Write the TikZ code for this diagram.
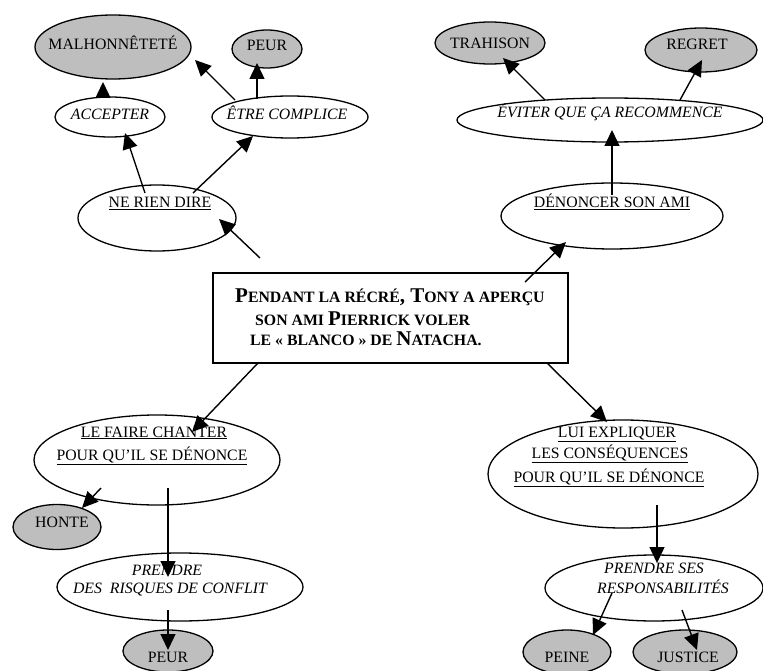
\documentclass[tikz,border=0pt]{standalone}
\usepackage{fontspec}
\setmainfont{Liberation Serif}
\usetikzlibrary{arrows.meta,calc,shapes.geometric}
\definecolor{ellgray}{RGB}{190,190,190}
\tikzset{
 ell/.style={draw=black, line width=1.3pt, ellipse, inner sep=0pt, fill=white},
 gell/.style={ell, fill=ellgray},
 lbl/.style={anchor=base, inner sep=0pt, font=\fontsize{15.8}{18}\selectfont},
 ilbl/.style={anchor=base, inner sep=0pt, font=\fontsize{15.8}{18}\selectfont\itshape},
 arr/.style={line width=1.4pt, -{Triangle[length=16pt,width=15pt]}},
 storybox/.style={draw=black, line width=1.3pt, rectangle, inner sep=0pt},
 bline/.style={anchor=base west, inner sep=0pt, font=\fontsize{21}{22}\selectfont\bfseries}
}
\newcommand\smc{\fontsize{15.8}{18}\selectfont}
\begin{document}
\begin{tikzpicture}[x=1pt,y=-1pt]
\useasboundingbox (0,0) rectangle (763,671);
% ---------- ellipses ----------
\node[gell, minimum width=156pt, minimum height=64pt] (malh) at (113,47) {};
\node[gell, minimum width=70pt, minimum height=38pt] (peur1) at (267,49) {};
\node[ell, minimum width=110pt, minimum height=40pt] (accepter) at (110,117) {};
\node[ell, minimum width=156pt, minimum height=42pt] (complice) at (290,117) {};
\node[ell, minimum width=158pt, minimum height=66pt] (nrd) at (157,218) {};
\node[gell, minimum width=110pt, minimum height=42pt] (trahison) at (490,43) {};
\node[gell, minimum width=112pt, minimum height=44pt] (regret) at (701,50) {};
\node[ell, minimum width=306pt, minimum height=44pt] (eviter) at (610,120) {};
\node[ell, minimum width=222pt, minimum height=66pt] (denoncer) at (612,216) {};
\node[storybox, minimum width=355pt, minimum height=90pt] (story) at (390.5,318) {};
\node[ell, minimum width=246pt, minimum height=90pt] (chanter) at (157,460) {};
\node[gell, minimum width=88pt, minimum height=45pt] (honte) at (57,527) {};
\node[ell, minimum width=246pt, minimum height=68pt] (risques) at (180,587) {};
\node[gell, minimum width=90pt, minimum height=42pt] (peur2) at (168,651) {};
\node[ell, minimum width=270pt, minimum height=108pt] (expl) at (623,474) {};
\node[ell, minimum width=218pt, minimum height=66pt] (resp) at (654,588) {};
\node[gell, minimum width=88pt, minimum height=44pt] (peine) at (567,652) {};
\node[gell, minimum width=104pt, minimum height=44pt] (justice) at (685,652) {};
% ---------- texts ----------
\node[lbl] (tmalh) at (113,50) {MALHONNÊTETÉ};
\node[lbl] (tpeur1) at (267,51) {PEUR};
\node[ilbl] (taccepter) at (110,120) {ACCEPTER};
\node[ilbl] (tcomplice) at (287,120) {ÊTRE COMPLICE};
\node[lbl] (tnrd) at (160,208) {\underline{NE RIEN DIRE}};
\node[lbl] (ttrahison) at (490,49) {TRAHISON};
\node[lbl] (tregret) at (697,50) {REGRET};
\node[ilbl] (teviter) at (610,118) {ÉVITER QUE ÇA RECOMMENCE};
\node[lbl] (tdenoncer) at (612,208) {\underline{DÉNONCER SON AMI}};
\node[bline] (ts1) at (235,302) {P{\smc ENDANT LA RÉCRÉ}, T{\smc ONY A APERÇU}};
\node[bline] (ts2) at (255,325) {{\smc SON AMI }P{\smc IERRICK VOLER}};
\node[bline] (ts3) at (250,345) {{\smc LE « BLANCO » DE }N{\smc ATACHA.}};
\node[lbl] (tch1) at (154,437) {\underline{LE FAIRE CHANTER}};
\node[lbl] (tch2) at (152,460) {\underline{POUR QU’IL SE DÉNONCE}};
\node[lbl] (thonte) at (62,527) {HONTE};
\node[ilbl] (tri1) at (167,575) {PRENDRE};
\node[ilbl] (tri2) at (170,593) {DES~ RISQUES DE CONFLIT};
\node[lbl] (tpeur2) at (168,662) {PEUR};
\node[lbl] (tex1) at (617,437) {\underline{LUI EXPLIQUER}};
\node[lbl] (tex2) at (610,458) {\underline{LES CONSÉQUENCES}};
\node[lbl] (tex3) at (609,482) {\underline{POUR QU’IL SE DÉNONCE}};
\node[ilbl] (tre1) at (654,573) {PRENDRE SES};
\node[ilbl] (tre2) at (663,593) {RESPONSABILITÉS};
\node[lbl] (tpeine) at (567,662) {PEINE};
\node[lbl] (tjustice) at (688,662) {JUSTICE};
% ---------- arrows ----------
\draw[arr] ($(accepter.center)+(-7,-20)$) -- ($(malh.center)+(-10,35)$);
\draw[arr] ($(complice.center)+(-55,-17)$) -- ($(malh.center)+(82,13)$);
\draw[arr] ($(complice.center)+(-33,-18)$) -- ($(peur1.center)+(-10,14)$);
\draw[arr] ($(nrd.center)+(-12,-25)$) -- ($(accepter.center)+(15,16)$);
\draw[arr] ($(nrd.center)+(36,-25)$) -- ($(complice.center)+(-37,19)$);
\draw[arr] ($(story.center)+(-130.5,-60)$) -- ($(nrd.center)+(62,1)$);
\draw[arr] ($(eviter.center)+(-65,-20)$) -- ($(trahison.center)+(13,15)$);
\draw[arr] ($(eviter.center)+(70,-20)$) -- ($(regret.center)+(1,10)$);
\draw[arr] ($(denoncer.center)+(0,-21)$) -- ($(eviter.center)+(2,10)$);
\draw[arr] ($(story.center)+(134.5,-36)$) -- ($(denoncer.center)+(-46,26)$);
\draw[arr] ($(story.center)+(-132.5,45)$) -- ($(chanter.center)+(35,-28)$);
\draw[arr] ($(chanter.center)+(-56,28)$) -- ($(honte.center)+(25,-19)$);
\draw[arr] ($(chanter.center)+(11,28)$) -- ($(risques.center)+(-12,-10)$);
\draw[arr] ($(risques.center)+(-12,23)$) -- ($(peur2.center)+(0,-1)$);
\draw[arr] ($(story.center)+(156.5,45)$) -- ($(expl.center)+(-16,-52)$);
\draw[arr] ($(expl.center)+(34,31)$) -- ($(resp.center)+(3,-25)$);
\draw[arr] ($(resp.center)+(-42,5)$) -- ($(peine.center)+(26,-17)$);
\draw[arr] ($(resp.center)+(28,22)$) -- ($(justice.center)+(12,-2)$);
\end{tikzpicture}
\end{document}
